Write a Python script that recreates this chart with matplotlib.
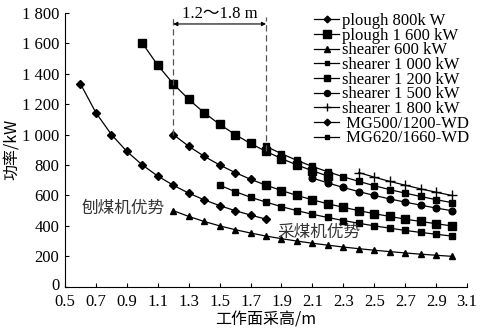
import matplotlib
matplotlib.use("Agg")
import matplotlib.pyplot as plt
from matplotlib.transforms import ScaledTranslation

plt.rcParams['font.family'] = ['Liberation Serif', 'Noto Sans CJK SC']

# ---- data (height m, power kW) ----
h_plough800 = [0.6, 0.7, 0.8, 0.9, 1.0, 1.1, 1.2, 1.3, 1.4, 1.5, 1.6, 1.7, 1.8]
p_plough800 = [1333, 1143, 1000, 889, 800, 727, 667, 615, 571, 533, 500, 471, 444]

h_plough1600 = [1.0, 1.1, 1.2, 1.3, 1.4, 1.5, 1.6, 1.7, 1.8, 1.9, 2.0, 2.1, 2.2]
p_plough1600 = [1600, 1455, 1333, 1231, 1143, 1067, 1000, 941, 889, 842, 800, 762, 727]

h_sh600 = [1.2, 1.3, 1.4, 1.5, 1.6, 1.7, 1.8, 1.9, 2.0, 2.1, 2.2, 2.3, 2.4, 2.5, 2.6, 2.7, 2.8, 2.9, 3.0]
p_sh600 = [500, 462, 429, 400, 375, 353, 333, 316, 300, 286, 273, 261, 250, 240, 231, 222, 214, 207, 200]

h_sh1000 = [1.5, 1.6, 1.7, 1.8, 1.9, 2.0, 2.1, 2.2, 2.3, 2.4, 2.5, 2.6, 2.7, 2.8, 2.9, 3.0]
p_sh1000 = [667, 625, 588, 556, 526, 500, 476, 455, 435, 417, 400, 385, 370, 357, 345, 333]

h_sh1200 = [1.8, 1.9, 2.0, 2.1, 2.2, 2.3, 2.4, 2.5, 2.6, 2.7, 2.8, 2.9, 3.0]
p_sh1200 = [667, 632, 600, 571, 545, 522, 500, 480, 462, 444, 429, 414, 400]

h_sh1500 = [2.1, 2.2, 2.3, 2.4, 2.5, 2.6, 2.7, 2.8, 2.9, 3.0]
p_sh1500 = [714, 682, 652, 625, 600, 577, 556, 536, 517, 500]

h_sh1800 = [2.4, 2.5, 2.6, 2.7, 2.8, 2.9, 3.0]
p_sh1800 = [750, 720, 692, 667, 643, 621, 600]

h_mg500 = [1.2, 1.3, 1.4, 1.5, 1.6, 1.7, 1.8]
p_mg500 = [1000, 923, 857, 800, 750, 706, 667]

h_mg620 = [1.8, 1.9, 2.0, 2.1, 2.2, 2.3, 2.4, 2.5, 2.6, 2.7, 2.8, 2.9, 3.0]
p_mg620 = [922, 874, 830, 790, 755, 722, 692, 664, 638, 615, 593, 572, 553]

labels = ["plough 800k W", "plough 1 600 kW", "shearer 600 kW", "shearer 1 000 kW",
          "shearer 1 200 kW", "shearer 1 500 kW", "shearer 1 800 kW",
          " MG500/1200-WD", " MG620/1660-WD"]

x_ticks = [0.5, 0.7, 0.9, 1.1, 1.3, 1.5, 1.7, 1.9, 2.1, 2.3, 2.5, 2.7, 2.9, 3.1]
y_ticks = [0, 200, 400, 600, 800, 1000, 1200, 1400, 1600, 1800]
y_tick_labels = ["0", "200", "400", "600", "800", "1 000", "1 200", "1 400", "1 600", "1 800"]

fig = plt.figure(figsize=(4.85, 3.3), dpi=100)
ax = fig.add_axes([0.134, 0.131, 0.829, 0.8305])

lw = 0.9
series = [
    (h_plough800, p_plough800, 'D', 3.8),
    (h_plough1600, p_plough1600, 's', 6.0),
    (h_sh600, p_sh600, '^', 4.8),
    (h_sh1000, p_sh1000, 's', 3.9),
    (h_sh1200, p_sh1200, 's', 5.4),
    (h_sh1500, p_sh1500, 'o', 4.8),
    (h_sh1800, p_sh1800, '+', 7.0),
    (h_mg500, p_mg500, 'D', 3.8),
    (h_mg620, p_mg620, 's', 3.9),
]
handles = []
for (hx, py, mk, ms), lab in zip(series, labels):
    ln, = ax.plot(hx, py, color='black', lw=lw, marker=mk, markersize=ms,
                  markerfacecolor='black', markeredgecolor='black', mew=1.0, label=lab)
    handles.append(ln)

ax.set_xlim(0.5, 3.1)
ax.set_ylim(0, 1800)
ax.set_xticks(x_ticks)
ax.set_xticklabels([f"{v:.1f}" for v in x_ticks])
ax.set_yticks(y_ticks)
ax.set_yticklabels(y_tick_labels)
ax.tick_params(direction='in', length=3, width=0.8, labelsize=12)
ax.tick_params(axis='x', pad=5)
ax.tick_params(axis='y', pad=4)
for s in ['top', 'right']:
    ax.spines[s].set_visible(False)
for s in ['left', 'bottom']:
    ax.spines[s].set_linewidth(0.8)

# the "0" label sits slightly above the axis in the reference
zero_lab = ax.yaxis.get_major_ticks()[0].label1
zero_lab.set_transform(zero_lab.get_transform() + ScaledTranslation(0, 3 / 100, fig.dpi_scale_trans))

ax.set_xlabel("工作面采高/m", fontsize=11.5, family=['Noto Sans CJK SC'], labelpad=1)
ax.set_ylabel("功率/kW", fontsize=11.5, family=['Noto Sans CJK SC'], labelpad=1)

# annotation for the 1.2~1.8 m range
ax.plot([1.2, 1.2], [1000, 1775], ls=(0, (5, 3)), color='#555555', lw=0.9)
ax.plot([1.8, 1.8], [889, 1775], ls=(0, (5, 3)), color='#555555', lw=0.9)
ax.annotate("", xy=(1.2, 1726), xytext=(1.8, 1726),
            arrowprops=dict(arrowstyle='<|-|>', color='black', lw=0.8,
                            mutation_scale=6, shrinkA=0, shrinkB=0))
ax.text(1.5, 1740, "1.2～1.8 m", ha='center', va='bottom', fontsize=12, clip_on=False)

ax.text(0.61, 517, "刨煤机优势", ha='left', va='center', fontsize=12,
        family=['Noto Sans CJK SC'], color='#333333')
ax.text(2.14, 358, "采煤机优势", ha='center', va='center', fontsize=12,
        family=['Noto Sans CJK SC'], color='#333333')

ax.legend(handles=handles, loc='upper right', bbox_to_anchor=(1.03, 1.035), frameon=False,
          fontsize=12, handlelength=1.5, handletextpad=0.15, labelspacing=-0.08,
          borderaxespad=0.2, markerscale=0.9)

fig.savefig("out.png", dpi=100)
